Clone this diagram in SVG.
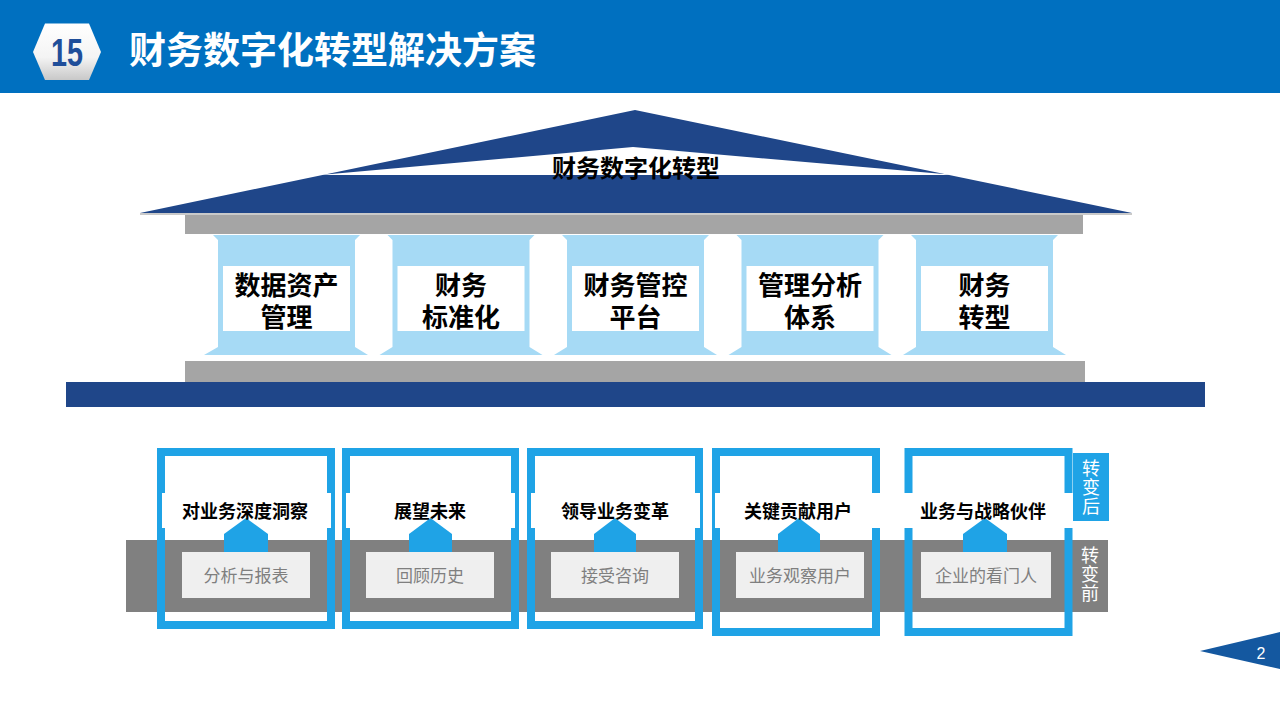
<svg xmlns="http://www.w3.org/2000/svg" width="1280" height="720" viewBox="0 0 1280 720">
<defs>
<linearGradient id="hexg" x1="0" y1="0" x2="0" y2="1">
<stop offset="0" stop-color="#ffffff"/><stop offset="0.6" stop-color="#f4f4f4"/><stop offset="1" stop-color="#c8c8c8"/>
</linearGradient>
<style>
.cjk{font-family:"Noto Sans CJK SC","Noto Sans",sans-serif}
.title{font-size:37px;font-weight:bold;fill:#fff}
.colt{font-size:26px;font-weight:bold;fill:#000;text-anchor:middle}
.lab{font-size:18px;font-weight:bold;fill:#000;text-anchor:middle}
.old{font-size:17px;fill:#7f7f7f;text-anchor:middle}
.vt{font-size:18px;fill:#fff;writing-mode:vertical-rl;letter-spacing:1px}
.col{fill:#A6DAF5}
.frame{fill:none;stroke:#1FA3E6;stroke-width:8}
.band{fill:#fff}
.pent{fill:#1FA3E6}
.obox{fill:#EFEFEF}
.navy{fill:#1F4689}
.beam{fill:#A5A5A5}
</style>
</defs>
<rect width="1280" height="720" fill="#fff"/>
<g id="header">
<rect x="0" y="0" width="1280" height="93" fill="#0070C0"/>
<polygon points="33,52 45,23.5 89,23.5 101,52 89,80 45,80" fill="url(#hexg)"/>
<text x="67" y="66" font-family="Liberation Sans Narrow,Liberation Sans,sans-serif" font-size="38" font-weight="bold" fill="#1F4E9A" text-anchor="middle" textLength="32" lengthAdjust="spacingAndGlyphs">15</text>
<text x="129" y="64" class="cjk title">财务数字化转型解决方案</text>
</g>
<g id="roof">
<polygon points="635,110 1132,213 140,213" class="navy"/>
<polygon points="320,175 633,147 955,175" fill="#fff"/>
<rect x="140" y="213" width="992" height="2" fill="#c9c9c9"/>
<text x="636" y="177" class="cjk" font-size="24" font-weight="bold" fill="#000" text-anchor="middle">财务数字化转型</text>
</g>
<g id="beams">
<rect x="185" y="215" width="898" height="19" class="beam"/>
<rect x="185" y="361" width="900" height="21" class="beam"/>
<rect x="66" y="382" width="1139" height="25" class="navy"/>
</g>
<g id="col1">
<polygon class="col" points="213,235 360,235 355,240 355,347 368,355 204,355 218,347 218,240"/>
<rect x="223" y="266" width="127" height="65" fill="#fff"/>
<text class="cjk colt"><tspan x="286.5" y="295">数据资产</tspan><tspan x="286.5" y="327">管理</tspan></text>
</g>
<g id="col2">
<polygon class="col" points="387.5,235 534.5,235 529.5,240 529.5,347 542.5,355 379.5,355 392.5,347 392.5,240"/>
<rect x="397.5" y="266" width="127" height="65" fill="#fff"/>
<text class="cjk colt"><tspan x="461" y="295">财务</tspan><tspan x="461" y="327">标准化</tspan></text>
</g>
<g id="col3">
<polygon class="col" points="562,235 709,235 704,240 704,347 717,355 554,355 567,347 567,240"/>
<rect x="572" y="266" width="127" height="65" fill="#fff"/>
<text class="cjk colt"><tspan x="635.5" y="295">财务管控</tspan><tspan x="635.5" y="327">平台</tspan></text>
</g>
<g id="col4">
<polygon class="col" points="736.5,235 883.5,235 878.5,240 878.5,347 891.5,355 728.5,355 741.5,347 741.5,240"/>
<rect x="746.5" y="266" width="127" height="65" fill="#fff"/>
<text class="cjk colt"><tspan x="810" y="295">管理分析</tspan><tspan x="810" y="327">体系</tspan></text>
</g>
<g id="col5">
<polygon class="col" points="911,235 1058,235 1053,240 1053,347 1066,355 903,355 916,347 916,240"/>
<rect x="921" y="266" width="127" height="65" fill="#fff"/>
<text class="cjk colt"><tspan x="984.5" y="295">财务</tspan><tspan x="984.5" y="327">转型</tspan></text>
</g>
<g id="before-band">
<rect x="126" y="540" width="982" height="72" fill="#808080"/>
<text class="cjk vt" x="1090" y="546">转变前</text>
</g>
<g id="after-label">
<rect x="1073" y="453" width="36" height="68" fill="#1FA3E6"/>
<text class="cjk vt" x="1091" y="459">转变后</text>
</g>
<g id="item1">
<rect class="frame" x="161" y="452" width="170" height="173"/>
<rect class="band" x="162" y="493" width="169" height="35"/>
<polygon class="pent" points="224,552 224,534 246,518 268,534 268,552"/>
<text class="cjk lab" x="245" y="518">对业务深度洞察</text>
<rect class="obox" x="182" y="552" width="128" height="46"/>
<text class="cjk old" x="246" y="582">分析与报表</text>
</g>
<g id="item2">
<rect class="frame" x="346" y="452" width="169" height="173"/>
<rect class="band" x="346" y="493" width="169" height="35"/>
<polygon class="pent" points="409,552 409,534 430.5,518 452,534 452,552"/>
<text class="cjk lab" x="430" y="518">展望未来</text>
<rect class="obox" x="366" y="552" width="128" height="46"/>
<text class="cjk old" x="430" y="582">回顾历史</text>
</g>
<g id="item3">
<rect class="frame" x="531" y="452" width="168" height="173"/>
<rect class="band" x="531" y="493" width="169" height="35"/>
<polygon class="pent" points="594,552 594,534 615,518 636,534 636,552"/>
<text class="cjk lab" x="615" y="518">领导业务变革</text>
<rect class="obox" x="551" y="552" width="128" height="46"/>
<text class="cjk old" x="615" y="582">接受咨询</text>
</g>
<g id="item4">
<rect class="frame" x="716" y="452" width="160" height="180"/>
<rect class="band" x="715" y="493" width="166" height="35"/>
<polygon class="pent" points="778,552 778,534 799,518 820,534 820,552"/>
<text class="cjk lab" x="798" y="518">关键贡献用户</text>
<rect class="obox" x="736" y="552" width="128" height="46"/>
<text class="cjk old" x="800" y="582">业务观察用户</text>
</g>
<g id="item5">
<rect class="frame" x="908.5" y="452" width="160" height="180"/>
<rect class="band" x="904" y="493" width="169" height="35"/>
<polygon class="pent" points="963,552 963,534 985,518 1007,534 1007,552"/>
<text class="cjk lab" x="983" y="518">业务与战略伙伴</text>
<rect class="obox" x="921" y="552" width="130" height="46"/>
<text class="cjk old" x="986" y="582">企业的看门人</text>
</g>
<g id="page">
<polygon points="1200,651 1280,632 1280,669" fill="#1458A0"/>
<text x="1261" y="659" font-family="Liberation Sans,sans-serif" font-size="16" fill="#fff" text-anchor="middle">2</text>
</g>
</svg>
